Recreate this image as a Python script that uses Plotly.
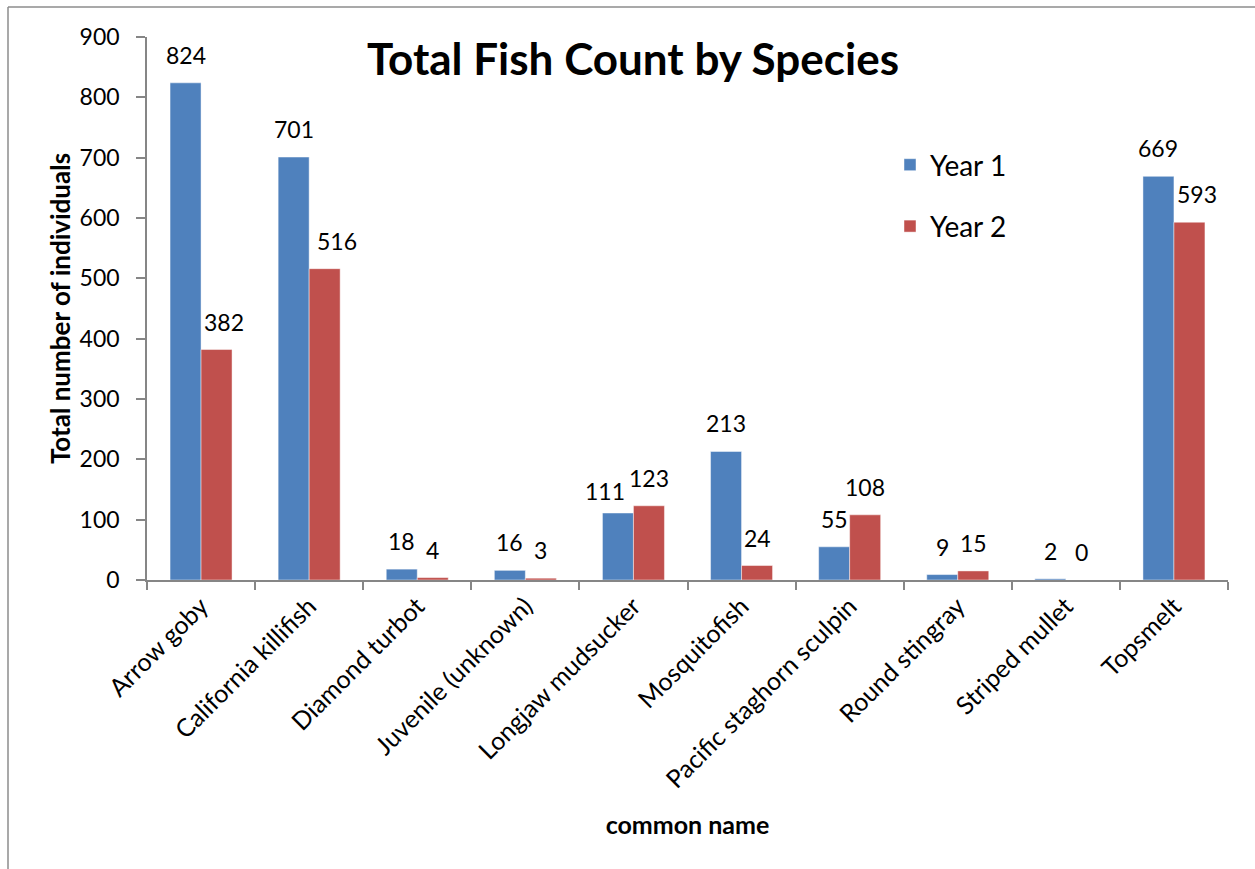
import plotly.graph_objects as go

species = ["Arrow goby", "California killifish", "Diamond turbot", "Juvenile (unknown)",
           "Longjaw mudsucker", "Mosquitofish", "Pacific staghorn sculpin",
           "Round stingray", "Striped mullet", "Topsmelt"]
year1 = [824, 701, 18, 16, 111, 213, 55, 9, 2, 669]
year2 = [382, 516, 4, 3, 123, 24, 108, 15, 0, 593]

BLUE = "#4F81BD"
RED = "#C0504D"
AXIS = "#868686"
FONT = "Lato, Carlito, Calibri, sans-serif"

# small label nudges (px) mimicking Excel's label placement
nudge = {(0, 1): 7, (1, 1): 12, (4, 0): -13, (9, 1): 8}
vnudge = {(4, 0): -6}

fig = go.Figure()
fig.add_trace(go.Bar(name="Year 1", x=species, y=year1, marker_color=BLUE,
                     marker_line=dict(color="rgba(255,255,255,0.45)", width=1),
                     legendgroup="g1"))
fig.add_trace(go.Bar(name="Year 2", x=species, y=year2, marker_color=RED,
                     marker_line=dict(color="rgba(255,255,255,0.45)", width=1),
                     legendgroup="g2"))

L, R, T, B = 147, 27, 37, 289
W, H = 1255, 869
pw = W - L - R
ph = H - T - B
cat_w = pw / len(species)
bar_w = 31

annotations = []
for si, vals in enumerate([year1, year2]):
    for ci, (name, v) in enumerate(zip(species, vals)):
        off = (-bar_w / 2 if si == 0 else bar_w / 2) + nudge.get((ci, si), 0)
        annotations.append(dict(
            x=name, y=v, xref="x", yref="y", text=str(v), showarrow=False,
            xshift=off, yshift=12 + vnudge.get((ci, si), 0), yanchor="bottom",
            font=dict(family=FONT, size=23, color="#000000")))

fig.update_layout(
    width=W, height=H,
    margin=dict(l=L, r=R, t=T, b=B),
    paper_bgcolor="white", plot_bgcolor="white",
    barmode="group", bargap=1 - 2 * bar_w / cat_w, bargroupgap=0,
    font=dict(family=FONT, color="#000000"),
    title=dict(text="<b>Total Fish Count by Species</b>", x=633 / W, xanchor="center",
               y=1 - 60 / H, yanchor="middle", xref="container", yref="container",
               font=dict(family=FONT, size=44, color="#000000")),
    legend=dict(x=(890 - L) / pw, y=(H - B - 140) / ph, xanchor="left", yanchor="top",
                font=dict(family=FONT, size=28, color="#000000"),
                bgcolor="rgba(0,0,0,0)", tracegroupgap=22, traceorder="grouped"),
    annotations=annotations,
    xaxis=dict(
        type="category", showline=True, linecolor=AXIS, linewidth=1.5,
        ticks="outside", tickson="boundaries", ticklen=8, tickcolor=AXIS, tickwidth=1.5,
        tickangle=-45, tickfont=dict(family=FONT, size=25, color="#000000"),
        showgrid=False, zeroline=False,
        title=dict(text="<b>common name</b>", font=dict(family=FONT, size=25, color="#000000"),
                   standoff=24),
    ),
    yaxis=dict(
        range=[0, 900], tickvals=[0, 100, 200, 300, 400, 500, 600, 700, 800, 900],
        showline=True, linecolor=AXIS, linewidth=1.5,
        ticks="outside", ticklen=9, tickcolor=AXIS, tickwidth=1.5,
        ticklabelstandoff=12,
        tickfont=dict(family=FONT, size=23, color="#000000"),
        showgrid=False, zeroline=False,
        title=dict(text="<b>Total number of individuals</b>",
                   font=dict(family=FONT, size=26, color="#000000"), standoff=2),
    ),
    shapes=[
        dict(type="line", xref="paper", yref="paper",
             x0=(8 - L) / pw, x1=(8 - L) / pw, y0=(H - B - 7) / ph, y1=(H - B - H - 5) / ph,
             line=dict(color="#8C8C8C", width=1.5), layer="below"),
        dict(type="line", xref="paper", yref="paper",
             x0=(8 - L) / pw, x1=(W + 5 - L) / pw, y0=(H - B - 7) / ph, y1=(H - B - 7) / ph,
             line=dict(color="#8C8C8C", width=1.5), layer="below"),
    ],
)

fig.write_html("out.html")
